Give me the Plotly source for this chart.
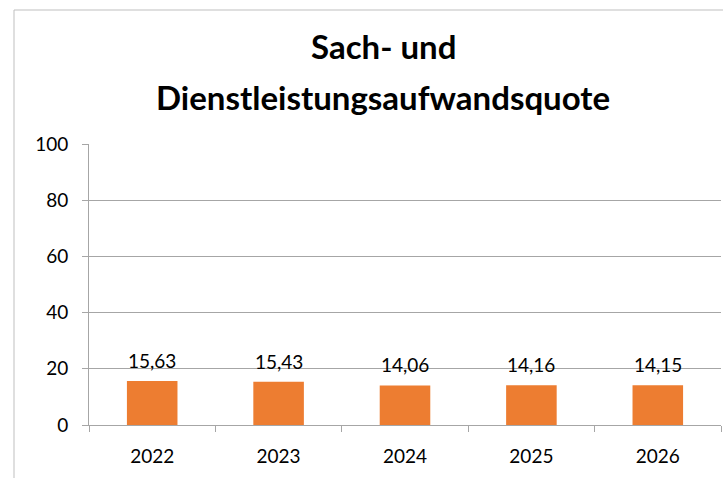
import plotly.graph_objects as go

years = ["2022", "2023", "2024", "2025", "2026"]
values = [15.63, 15.43, 14.06, 14.16, 14.15]
labels = ["15,63", "15,43", "14,06", "14,16", "14,15"]
y_ticks = [0, 20, 40, 60, 80, 100]
title_lines = ["Sach- und", "Dienstleistungsaufwandsquote"]

FONT = "Lato, Calibri, Carlito, sans-serif"
GRID = "#A6A6A6"
L, R, T, B = 89, 2, 144, 53
W, H = 723, 478
PW, PH = W - L - R, H - T - B


def px(xp):
    return (xp - L) / PW


def py(yp):
    return (H - B - yp) / PH


fig = go.Figure()
fig.add_trace(go.Bar(x=years, y=values, text=labels, textposition="none",
                     marker=dict(color="#ED7D31", line=dict(width=0)), hoverinfo="skip"))

annotations = []
for i, (v, t) in enumerate(zip(values, labels)):
    annotations.append(dict(x=i, y=v, xref="x", yref="y", text=t, showarrow=False,
                            yanchor="bottom", yshift=7,
                            font=dict(family=FONT, size=19, color="#000")))
annotations.append(dict(x=px(383), y=py(46), xref="paper", yref="paper",
                        text="<b>" + title_lines[0] + "</b>", showarrow=False, yanchor="middle",
                        font=dict(family=FONT, size=33, color="#000")))
annotations.append(dict(x=px(383), y=py(97), xref="paper", yref="paper",
                        text="<b>" + title_lines[1] + "</b>", showarrow=False, yanchor="middle",
                        font=dict(family=FONT, size=33, color="#000")))

fig.update_layout(
    width=W, height=H,
    margin=dict(l=L, r=R, t=T, b=B, autoexpand=False),
    paper_bgcolor="white", plot_bgcolor="white",
    showlegend=False,
    bargap=0.6,
    annotations=annotations,
    shapes=[dict(type="rect", xref="paper", yref="paper",
                 x0=px(14), x1=1.05, y0=-0.3, y1=py(10),
                 line=dict(color="#BFBFBF", width=1), fillcolor="rgba(0,0,0,0)", layer="below")],
    font=dict(family=FONT, color="#000"),
)
fig.update_xaxes(type="category", range=[-0.5, len(years) - 0.5], showline=True,
                 linecolor=GRID, linewidth=1, automargin=False, tickangle=0,
                 ticks="outside", tickson="boundaries", ticklen=6, tickcolor=GRID,
                 ticklabelstandoff=14,
                 tickfont=dict(family=FONT, size=19, color="#000"), showgrid=False)
fig.update_yaxes(range=[0, 100], tickvals=y_ticks, showline=True, linecolor=GRID, linewidth=1,
                 ticks="outside", ticklen=6, tickcolor=GRID, gridcolor=GRID, gridwidth=1,
                 zeroline=False, automargin=False, ticklabelstandoff=10,
                 tickfont=dict(family=FONT, size=19, color="#000"))

fig.write_html("out.html", config={"displayModeBar": False},
               post_script="document.body.style.margin='0';document.body.style.overflow='hidden';")
